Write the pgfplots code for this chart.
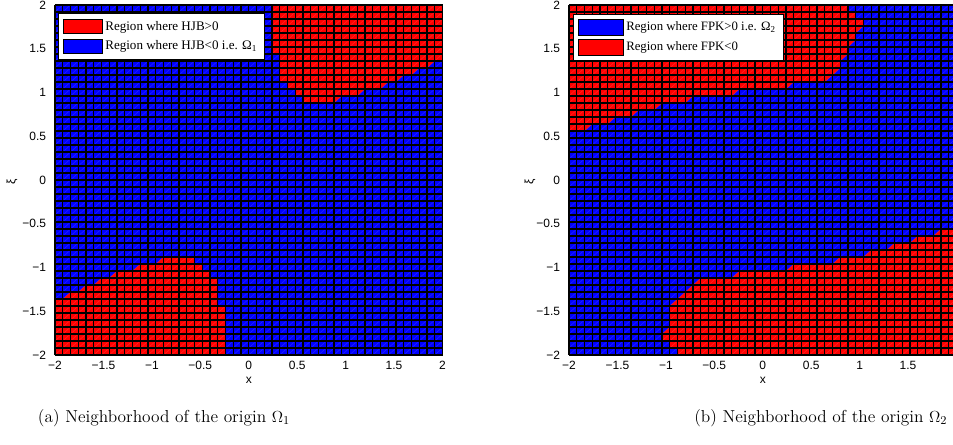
\documentclass[border=0pt]{standalone}
\usepackage{fontspec}
\usepackage{pgfplots}
\usepackage{pgfplotstable}
\pgfplotsset{compat=1.18}
\newfontfamily\sansf{Liberation Sans}
\newfontfamily\serf{Liberation Serif}

% cell diagonals (decorative, slope 1 through the grid nodes)
\pgfplotstableread[row sep=\\]{
x y\\
-5.92 -2\\ -1.92 2\\ nan nan\\ -5.84 -2\\ -1.84 2\\ nan nan\\ -5.76 -2\\ -1.76 2\\ nan nan\\
-5.68 -2\\ -1.68 2\\ nan nan\\ -5.6 -2\\ -1.6 2\\ nan nan\\ -5.52 -2\\ -1.52 2\\ nan nan\\
-5.44 -2\\ -1.44 2\\ nan nan\\ -5.36 -2\\ -1.36 2\\ nan nan\\ -5.28 -2\\ -1.28 2\\ nan nan\\
-5.2 -2\\ -1.2 2\\ nan nan\\ -5.12 -2\\ -1.12 2\\ nan nan\\ -5.04 -2\\ -1.04 2\\ nan nan\\
-4.96 -2\\ -0.96 2\\ nan nan\\ -4.88 -2\\ -0.88 2\\ nan nan\\ -4.8 -2\\ -0.8 2\\ nan nan\\
-4.72 -2\\ -0.72 2\\ nan nan\\ -4.64 -2\\ -0.64 2\\ nan nan\\ -4.56 -2\\ -0.56 2\\ nan nan\\
-4.48 -2\\ -0.48 2\\ nan nan\\ -4.4 -2\\ -0.4 2\\ nan nan\\ -4.32 -2\\ -0.32 2\\ nan nan\\
-4.24 -2\\ -0.24 2\\ nan nan\\ -4.16 -2\\ -0.16 2\\ nan nan\\ -4.08 -2\\ -0.08 2\\ nan nan\\
-4 -2\\ 0 2\\ nan nan\\ -3.92 -2\\ 0.08 2\\ nan nan\\ -3.84 -2\\ 0.16 2\\ nan nan\\
-3.76 -2\\ 0.24 2\\ nan nan\\ -3.68 -2\\ 0.32 2\\ nan nan\\ -3.6 -2\\ 0.4 2\\ nan nan\\
-3.52 -2\\ 0.48 2\\ nan nan\\ -3.44 -2\\ 0.56 2\\ nan nan\\ -3.36 -2\\ 0.64 2\\ nan nan\\
-3.28 -2\\ 0.72 2\\ nan nan\\ -3.2 -2\\ 0.8 2\\ nan nan\\ -3.12 -2\\ 0.88 2\\ nan nan\\
-3.04 -2\\ 0.96 2\\ nan nan\\ -2.96 -2\\ 1.04 2\\ nan nan\\ -2.88 -2\\ 1.12 2\\ nan nan\\
-2.8 -2\\ 1.2 2\\ nan nan\\ -2.72 -2\\ 1.28 2\\ nan nan\\ -2.64 -2\\ 1.36 2\\ nan nan\\
-2.56 -2\\ 1.44 2\\ nan nan\\ -2.48 -2\\ 1.52 2\\ nan nan\\ -2.4 -2\\ 1.6 2\\ nan nan\\
-2.32 -2\\ 1.68 2\\ nan nan\\ -2.24 -2\\ 1.76 2\\ nan nan\\ -2.16 -2\\ 1.84 2\\ nan nan\\
-2.08 -2\\ 1.92 2\\ nan nan\\ -2 -2\\ 2 2\\ nan nan\\ -1.92 -2\\ 2.08 2\\ nan nan\\
-1.84 -2\\ 2.16 2\\ nan nan\\ -1.76 -2\\ 2.24 2\\ nan nan\\ -1.68 -2\\ 2.32 2\\ nan nan\\
-1.6 -2\\ 2.4 2\\ nan nan\\ -1.52 -2\\ 2.48 2\\ nan nan\\ -1.44 -2\\ 2.56 2\\ nan nan\\
-1.36 -2\\ 2.64 2\\ nan nan\\ -1.28 -2\\ 2.72 2\\ nan nan\\ -1.2 -2\\ 2.8 2\\ nan nan\\
-1.12 -2\\ 2.88 2\\ nan nan\\ -1.04 -2\\ 2.96 2\\ nan nan\\ -0.96 -2\\ 3.04 2\\ nan nan\\
-0.88 -2\\ 3.12 2\\ nan nan\\ -0.8 -2\\ 3.2 2\\ nan nan\\ -0.72 -2\\ 3.28 2\\ nan nan\\
-0.64 -2\\ 3.36 2\\ nan nan\\ -0.56 -2\\ 3.44 2\\ nan nan\\ -0.48 -2\\ 3.52 2\\ nan nan\\
-0.4 -2\\ 3.6 2\\ nan nan\\ -0.32 -2\\ 3.68 2\\ nan nan\\ -0.24 -2\\ 3.76 2\\ nan nan\\
-0.16 -2\\ 3.84 2\\ nan nan\\ -0.08 -2\\ 3.92 2\\ nan nan\\ 0 -2\\ 4 2\\ nan nan\\
0.08 -2\\ 4.08 2\\ nan nan\\ 0.16 -2\\ 4.16 2\\ nan nan\\ 0.24 -2\\ 4.24 2\\ nan nan\\
0.32 -2\\ 4.32 2\\ nan nan\\ 0.4 -2\\ 4.4 2\\ nan nan\\ 0.48 -2\\ 4.48 2\\ nan nan\\
0.56 -2\\ 4.56 2\\ nan nan\\ 0.64 -2\\ 4.64 2\\ nan nan\\ 0.72 -2\\ 4.72 2\\ nan nan\\
0.8 -2\\ 4.8 2\\ nan nan\\ 0.88 -2\\ 4.88 2\\ nan nan\\ 0.96 -2\\ 4.96 2\\ nan nan\\
1.04 -2\\ 5.04 2\\ nan nan\\ 1.12 -2\\ 5.12 2\\ nan nan\\ 1.2 -2\\ 5.2 2\\ nan nan\\
1.28 -2\\ 5.28 2\\ nan nan\\ 1.36 -2\\ 5.36 2\\ nan nan\\ 1.44 -2\\ 5.44 2\\ nan nan\\
1.52 -2\\ 5.52 2\\ nan nan\\ 1.6 -2\\ 5.6 2\\ nan nan\\ 1.68 -2\\ 5.68 2\\ nan nan\\
1.76 -2\\ 5.76 2\\ nan nan\\ 1.84 -2\\ 5.84 2\\ nan nan\\ 1.92 -2\\ 5.92 2\\
}\diagtab

\pgfplotsset{
  cellaxis/.style={
    scale only axis, width=290.625pt, height=262.5pt,
    xmin=-2, xmax=2, ymin=-2, ymax=2,
    axis on top,
    axis line style={black, line width=0.6pt},
    xtick={-2,-1.5,-1,-0.5,0,0.5,1,1.5,2},
    ytick={-2,-1.5,-1,-0.5,0,0.5,1,1.5,2},
    xticklabels={−2,−1.5,−1,−0.5,0,0.5,1,1.5,2},
    yticklabels={−2,−1.5,−1,−0.5,0,0.5,1,1.5,2},
    major tick length=0pt, minor tick length=0pt,
    minor xtick={-2,-1.92,...,2.01},
    minor ytick={-2,-1.92,...,2.01},
    xminorgrids=true, yminorgrids=true,
    minor grid style={black, line width=0.8pt},
    tick label style={font=\sansf\fontsize{9}{10}\selectfont, text=black},
    xticklabel style={anchor=base, yshift=-11pt},
    yticklabel style={anchor=east, xshift=-3.2pt},
    xlabel={x},
    xlabel style={font=\sansf\fontsize{9}{10}\selectfont, at={([yshift=-19pt]rel axis cs:0.5,0)}, anchor=center},
    legend cell align=left,
    legend style={anchor=north west, draw=black, fill=white, inner xsep=3.5pt, inner ysep=3.8pt, row sep=2.6pt},
  },
  diagstyle/.style={white, opacity=0.15, line width=0.35pt, unbounded coords=jump, forget plot},
}

\begin{document}
\begin{tikzpicture}
\path[use as bounding box] (0pt,0pt) rectangle (714.75pt,333pt);

% ---------------- panel (a) ----------------
\begin{axis}[cellaxis, at={(41.25pt,66.75pt)}, anchor=south west,
  legend image code/.code={\draw[#1, draw=black, line width=0.5pt] (0pt,-5.4pt) rectangle (29.25pt,5.4pt);},
  legend style={at={(rel axis cs:0.0078,0.977)}, font=\serf\fontsize{9.8}{11.5}\selectfont}]
\addplot[fill=blue, draw=none, forget plot] coordinates {(-2,-2) (2,-2) (2,2) (-2,2)} -- cycle;
% region HJB>0, upper right
\addplot[fill=red, draw=none, forget plot] coordinates {
 (0.24,2) (0.24,1.44) (0.32,1.44) (0.32,1.12) (0.40,1.12) (0.40,1.04) (0.48,1.04)
 (0.48,0.96) (0.56,0.96) (0.56,0.88) (0.88,0.88) (0.96,0.96) (1.12,0.96) (1.20,1.04)
 (1.36,1.04) (1.44,1.12) (1.52,1.12) (1.60,1.20) (1.68,1.20) (1.76,1.28) (1.84,1.28)
 (1.92,1.36) (2,1.36) (2,2)} -- cycle;
% region HJB>0, lower left
\addplot[fill=red, draw=none, forget plot] coordinates {
 (-2,-2) (-2,-1.36) (-1.92,-1.36) (-1.84,-1.28) (-1.76,-1.28) (-1.68,-1.20) (-1.60,-1.20)
 (-1.52,-1.12) (-1.44,-1.12) (-1.36,-1.04) (-1.20,-1.04) (-1.12,-0.96) (-0.96,-0.96)
 (-0.88,-0.88) (-0.56,-0.88) (-0.56,-0.96) (-0.48,-0.96) (-0.48,-1.04) (-0.40,-1.04)
 (-0.40,-1.12) (-0.32,-1.12) (-0.32,-1.44) (-0.24,-1.44) (-0.24,-2)} -- cycle;
\addplot[diagstyle] table {\diagtab};
\addlegendimage{fill=red}
\addlegendentry{Region where HJB>0}
\addlegendimage{fill=blue}
\addlegendentry{Region where HJB<0 i.e. Ω\textsubscript{1}\hspace{9pt}}
\end{axis}

% ---------------- panel (b) ----------------
\begin{axis}[cellaxis, at={(426.75pt,66.75pt)}, anchor=south west,
  legend image code/.code={\draw[#1, draw=black, line width=0.5pt] (0pt,-5.9pt) rectangle (33.75pt,5.9pt);},
  legend style={at={(rel axis cs:0.0103,0.975)}, font=\serf\fontsize{9.6}{11.3}\selectfont}]
\addplot[fill=blue, draw=none, forget plot] coordinates {(-2,-2) (2,-2) (2,2) (-2,2)} -- cycle;
% region FPK<0, upper left
\addplot[fill=red, draw=none, forget plot] coordinates {
 (-2,2) (0.88,2) (0.88,1.92) (0.96,1.92) (0.96,1.84) (1.04,1.84) (1.04,1.76) (0.96,1.68)
 (0.96,1.60) (0.88,1.52) (0.88,1.44) (0.80,1.36) (0.80,1.28) (0.72,1.20) (0.64,1.12)
 (0.32,1.12) (0.24,1.04) (-0.24,1.04) (-0.32,0.96) (-0.72,0.96) (-0.80,0.88) (-1.04,0.88)
 (-1.12,0.80) (-1.28,0.80) (-1.36,0.72) (-1.52,0.72) (-1.60,0.64) (-1.76,0.64)
 (-1.84,0.56) (-2,0.56)} -- cycle;
% region FPK<0, lower right
\addplot[fill=red, draw=none, forget plot] coordinates {
 (2,-2) (2,-0.56) (1.84,-0.56) (1.76,-0.64) (1.60,-0.64) (1.52,-0.72) (1.36,-0.72)
 (1.28,-0.80) (1.12,-0.80) (1.04,-0.88) (0.80,-0.88) (0.72,-0.96) (0.32,-0.96)
 (0.24,-1.04) (-0.24,-1.04) (-0.32,-1.12) (-0.64,-1.12) (-0.72,-1.20) (-0.80,-1.28)
 (-0.88,-1.36) (-0.96,-1.44) (-0.96,-1.68) (-1.04,-1.76) (-1.04,-1.84) (-0.96,-1.84)
 (-0.96,-1.92) (-0.88,-1.92) (-0.88,-2)} -- cycle;
\addplot[diagstyle] table {\diagtab};
\addlegendimage{fill=blue}
\addlegendentry{Region where FPK>0 i.e. Ω\textsubscript{2}\hspace{14pt}}
\addlegendimage{fill=red}
\addlegendentry{Region where FPK<0}
\end{axis}

% y axis labels (rotated, as in the reference)
\node[rotate=90, font=\sansf\fontsize{9}{10}\selectfont] at (9pt,196.7pt) {ξ};
\node[rotate=90, font=\sansf\fontsize{9}{10}\selectfont] at (397.5pt,196.7pt) {ξ};

\node[font=\fontsize{13}{15}\selectfont, anchor=base] at (123pt,16.5pt) {(a) Neighborhood of the origin $\Omega_1$};
\node[font=\fontsize{13}{15}\selectfont, anchor=base east] at (714pt,16.5pt) {(b) Neighborhood of the origin $\Omega_2$};
\end{tikzpicture}
\end{document}
